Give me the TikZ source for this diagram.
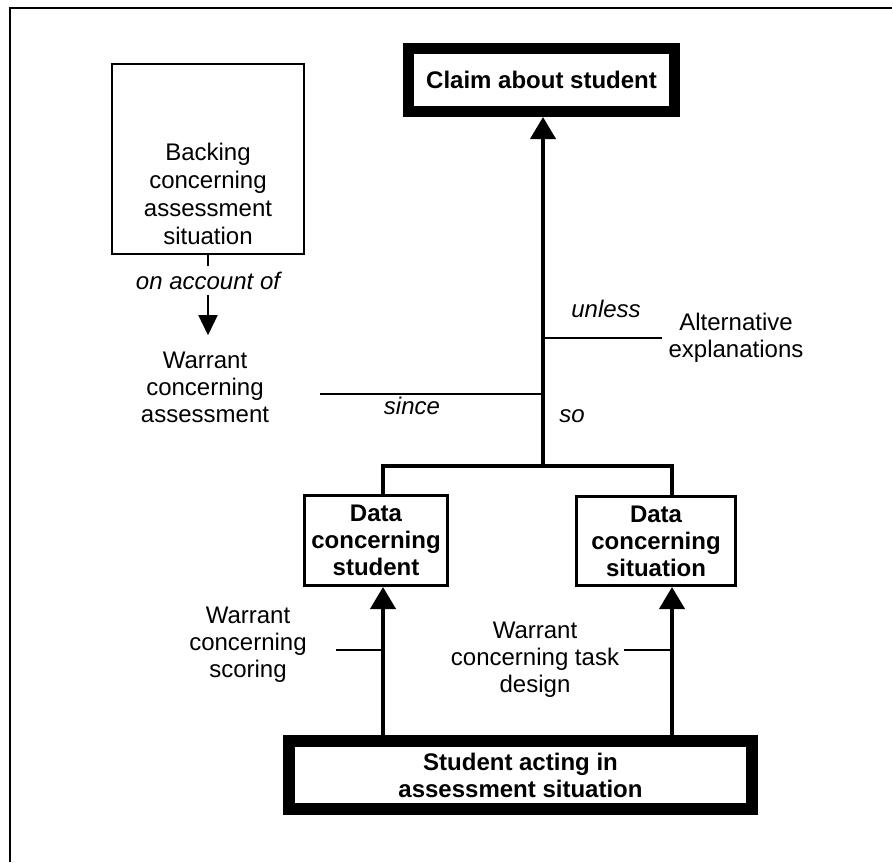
\documentclass[tikz,border=0pt]{standalone}
\usepackage{fontspec}
\setmainfont{Liberation Sans}
\usetikzlibrary{arrows.meta,positioning}

\begin{document}
\begin{tikzpicture}[
  x=0.5pt, y=-0.5pt,
  txt/.style={font=\fontsize{12}{13.5}\selectfont},
  bold/.style={font=\fontsize{12}{13.5}\selectfont\bfseries},
  ital/.style={font=\fontsize{12}{13.5}\selectfont\itshape, inner sep=2pt},
  box/.style={draw, line width=#1, inner sep=0pt, align=center},
  lbl/.style={txt, align=center, inner sep=3pt},
  bigarrow/.style={line width=2pt, -{Triangle[length=11pt,width=12.5pt]}},
  smallarrow/.style={line width=0.75pt, -{Triangle[length=10pt,width=9.5pt]}},
  tick/.style={line width=0.75pt},
  trunk/.style={line width=2pt},
]
\useasboundingbox (0,0) rectangle (892,862);

% frame (left and top edge only)
\draw[line width=1.2pt] (10,862) -- (10,8) -- (892,8);

% boxes
\node[box=5.5pt, bold, minimum width=133pt, minimum height=31.5pt] (claim)
      at (541.5,80) {Claim about student};
\node[box=0.75pt, font=\fontsize{12}{14}\selectfont, minimum width=96pt, minimum height=95pt] (back)
      at (208,159) {\mbox{}\\[30pt]Backing\\concerning\\assessment\\situation};
\node[box=1.5pt, bold, minimum width=71.5pt, minimum height=45pt] (sdata)
      at (376,540.5) {Data\\concerning\\student};
\node[box=1.5pt, bold, minimum width=79.5pt, minimum height=44.5pt] (tdata)
      at (656,541) {Data\\concerning\\situation};
\node[box=6pt, bold, minimum width=231.5pt, minimum height=34pt] (act)
      at (520.5,775) {Student acting in\\assessment situation};

% labels
\node[lbl, inner ysep=8pt] (wass) at (205,387) {Warrant\\concerning\\assessment};
\node[lbl] (alt) at (736,338) {Alternative\\explanations};
\node[lbl] (wscore) at (248,645) {Warrant\\concerning\\scoring};
\node[lbl] (wtask) at (535,660) {Warrant\\concerning task\\design};
\node[ital] (since) at (412,406) {since};
\node[ital] (so) at (572,416) {so};
\node[ital] (unless) at (606,309) {unless};

% joints of the data bar
\coordinate (lj) at (383,466);
\coordinate (mj) at (543,466);
\coordinate (rj) at (672,466);
\coordinate (sincetick) at (320,394);
\coordinate (scoretick) at (336,650);
\coordinate (tasktick) at (624,650);

\draw[trunk] (lj |- sdata.north) -- (lj) -- (rj) -- (rj |- tdata.north);
\draw[bigarrow] (mj) -- (mj |- claim.south);
\draw[bigarrow] (lj |- act.north) -- (lj |- sdata.south);
\draw[bigarrow] (rj |- act.north) -- (rj |- tdata.south);

\draw[smallarrow] (back.south)
    -- node[ital, pos=0.32, fill=white, inner sep=3pt]{on account of}
    (back.south |- wass.north);

% ticks
\draw[tick] (sincetick) -- (sincetick -| mj);
\draw[tick] (mj |- alt.west) -- (alt.west);
\draw[tick] (scoretick) -- (scoretick -| lj);
\draw[tick] (tasktick) -- (tasktick -| rj);

\end{tikzpicture}
\end{document}
